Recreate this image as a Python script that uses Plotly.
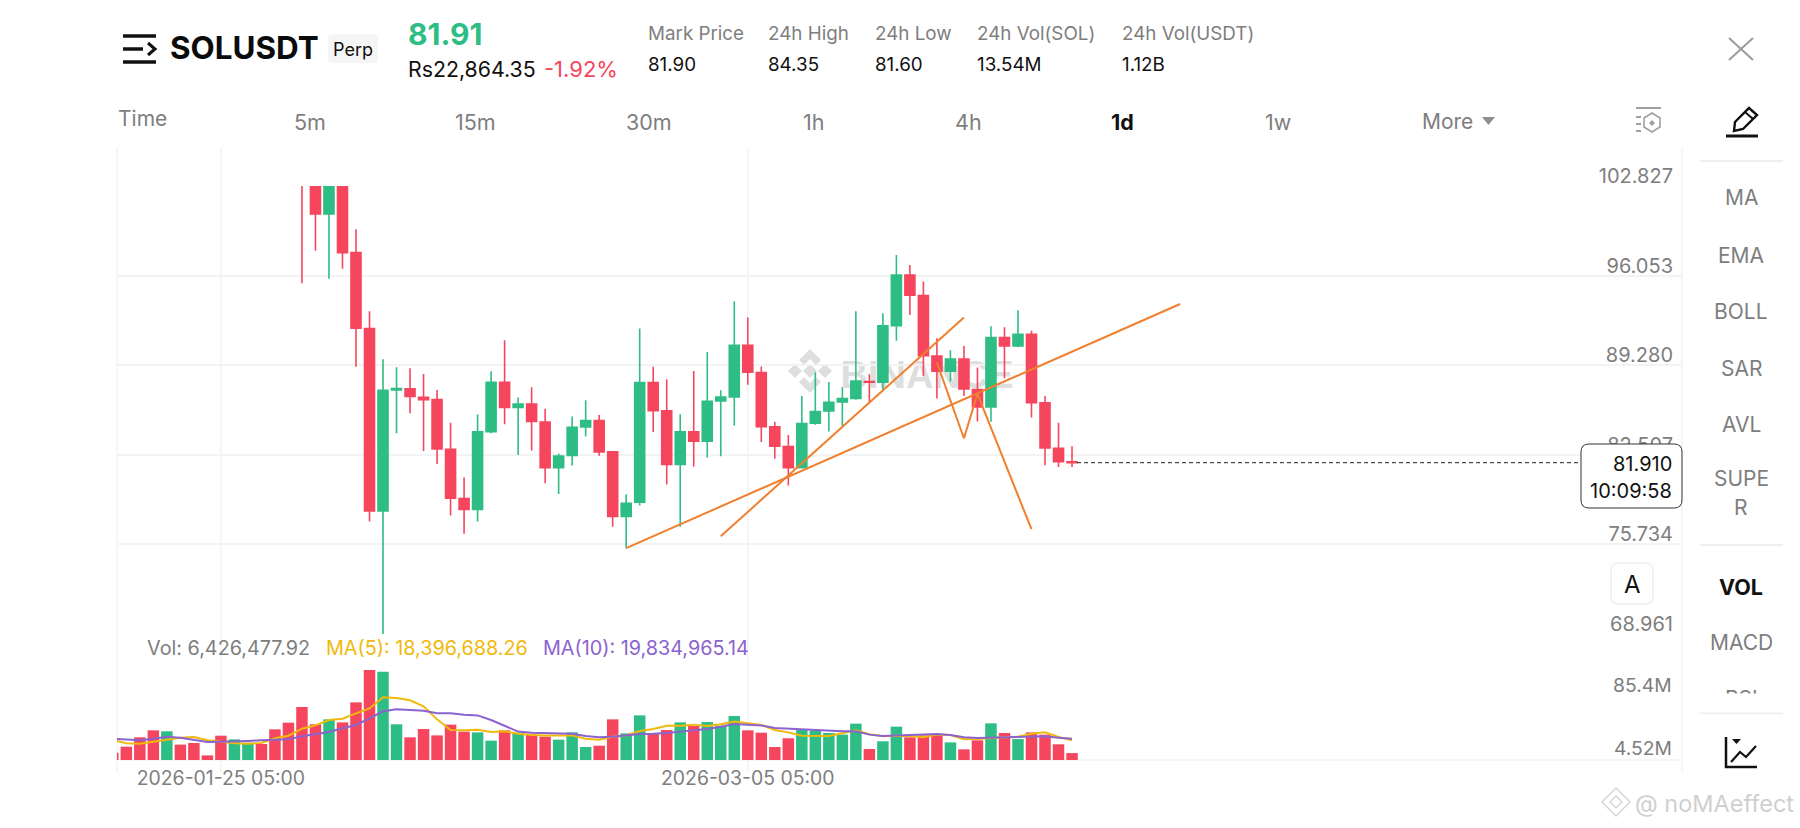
import pandas as pd
import plotly.graph_objects as go

W, H = 1800, 828
GREEN, RED = "#2EBD85", "#F6465D"
ORANGE = "#F07F2E"
YEL, PUR = "#F0B90B", "#8B63CF"
GRID = "#F3F3F3"
GRAY = "#7E7E7E"
FONT = "Inter"

opens = [106, 104, 100.71, 103.5, 97.79, 92.05, 78.27, 87.41, 87.49, 86.86, 86.68, 82.93, 79.20, 78.37, 84.26, 87.99, 86.08, 86.35, 84.99, 81.54, 82.45, 84.62,
         85.09, 82.73, 77.84, 78.92, 87.97, 85.83, 81.77, 84.24, 83.53, 86.58, 86.88, 90.79, 88.72, 84.62, 83.13, 81.54, 84.89, 85.83, 86.50, 86.76, 88.04, 87.99, 92.27, 96.10, 94.54, 89.98, 88.82, 89.75, 87.44, 86.13, 91.37, 90.74, 91.62, 86.43, 83.00, 81.97]
closes = [104, 100.71, 103.5, 97.79, 92.07, 78.27, 87.39, 87.51, 86.91, 86.68, 82.95, 79.23, 78.37, 84.24, 87.99, 86.08, 86.35, 85.02, 81.54, 82.42, 84.59, 85.09,
          82.73, 77.84, 78.85, 87.97, 85.85, 81.77, 84.24, 83.53, 86.56, 86.88, 90.79, 88.75, 84.64, 83.15, 81.54, 84.87, 85.78, 86.48, 86.76, 88.09, 87.99, 92.25, 96.10, 94.57, 90.00, 88.82, 89.75, 87.49, 86.13, 91.37, 90.74, 91.62, 86.45, 83.03, 81.99, 81.91]
highs = [107, 105, 105, 104, 99.55, 93.36, 89.73, 89.12, 89.05, 88.62, 87.41, 84.93, 80.79, 85.55, 88.82, 91.16, 86.83, 87.61, 85.99, 82.60, 85.40, 86.63,
         85.52, 82.78, 79.53, 92.05, 89.17, 88.22, 85.57, 88.85, 90.28, 87.39, 94.11, 92.88, 89.19, 85.00, 84.00, 86.96, 88.75, 88.02, 87.61, 93.36, 88.60, 93.21, 97.61, 96.86, 95.60, 91.31, 90.41, 90.74, 89.10, 92.22, 92.15, 93.43, 91.89, 86.96, 84.93, 83.16]
lows = [95.47, 97.94, 95.82, 96.58, 89.17, 77.46, 68.5, 84.14, 85.65, 82.80, 81.82, 77.92, 76.53, 77.46, 84.14, 84.82, 82.50, 82.83, 80.36, 79.55, 81.69, 83.89,
        82.43, 77.06, 75.45, 78.67, 84.24, 80.26, 77.06, 81.62, 82.30, 82.40, 84.72, 87.81, 83.48, 82.20, 80.18, 81.54, 84.77, 84.26, 84.69, 86.66, 86.48, 87.41, 91.12, 93.08, 88.47, 86.76, 88.04, 86.96, 85.02, 85.00, 88.29, 90.64, 85.32, 81.72, 81.59, 81.59]

volumes = [6.8, 12.4, 21.1, 27.6, 26.7, 14.3, 15.8, 4.3, 22.6, 19.2, 16.1, 14.9, 28.5, 34.7, 49.3, 33.2, 37.8, 35.0, 53.6, 83.7, 82.2, 33.2, 21.1, 28.8, 22.9, 32.9, 26.4, 25.7, 18.0, 27.6, 25.4, 23.9, 21.7, 18.9, 25.7, 12.1,
           13.3, 37.8, 24.8, 41.5, 24.8, 27.9, 35.0, 31.6, 35.3, 31.9, 40.9, 27.6, 25.4, 12.1, 20.2, 27.9, 27.3, 25.1, 23.6, 33.8, 10.2, 17.4, 31.0, 21.1, 22.9, 23.3, 16.4, 9.9, 18.3, 34.1, 25.1, 19.5, 25.7, 23.6, 14.6, 6.43]
early_up = [0, 0, 0, 0, 1, 0, 0, 0, 0, 1, 1, 0, 0, 0]
ma5 = [18.6, 15.5, 15.2, 17.05, 19.5, 20.8, 21.4, 18.3, 17.05, 15.5, 15.2, 15.8, 20.2, 22.6, 29.1, 32.2, 37.2, 38.4, 43.4, 48, 58.3, 57.7, 55.5, 49.9, 37.8, 27.9, 27.6, 28.2, 26, 26.7, 24.5, 23.3, 22.9, 22.6, 22.9, 19.8,
       18.9, 21.7, 22.9, 27, 28.8, 31.9, 31.9, 32.9, 31.6, 33.2, 35.7, 34.1, 32.6, 27.9, 25.7, 22.6, 22.3, 22.3, 24.8, 27.6, 23.9, 22, 22.6, 22.3, 21.1, 23.6, 23.3, 19.2, 19.5, 20.5, 21.1, 21.7, 24.5, 25.7, 21.4, 18.4]
ma10 = [19.8, 18.9, 18.3, 19.8, 21.7, 20.8, 18.6, 16.7, 17.05, 17.05, 17.7, 18.3, 18.6, 19.2, 22, 24.2, 26, 29.5, 32.6, 38.8, 45.3, 47.1, 46.5, 45.9, 43.4, 43.4, 42.2, 41.5, 37.2, 31.9, 26.4, 25.4, 25.1, 24.2, 24.5, 22.3,
        21.1, 21.7, 22.9, 24.2, 24.5, 25.1, 26.4, 27.3, 28.8, 31, 33.5, 32.9, 32.2, 29.8, 29.1, 28.8, 28.2, 27.6, 26.7, 26.7, 23.6, 22.3, 22.9, 23.6, 24.2, 24.2, 23.3, 21.1, 20.5, 20.8, 21.7, 22, 22, 22, 20.8, 19.83]

price_ticks = [102.827, 96.053, 89.280, 82.507, 75.734, 68.961]
price_labels = ["102.827", "96.053", "89.280", "82.507", "75.734", "68.961"]
date_ticks = ["2026-01-25 05:00", "2026-03-05 05:00"]
last_price = 81.91

trend_a_x = ["2026-02-24 05:00", "2026-04-06 05:00"]
trend_a_y = [75.45, 93.91]
trend_b_x = ["2026-03-03 05:00", "2026-03-21 05:00"]
trend_b_y = [76.35, 92.88]
zig_x = ["2026-03-19 05:00", "2026-03-21 05:00", "2026-03-22 05:00", "2026-03-26 05:00"]
zig_y = [89.48, 83.76, 87.11, 76.88]

vol_dates = pd.date_range("2026-01-17 05:00", periods=len(volumes), freq="D")
candle_dates = vol_dates[len(early_up):]
vol_up = early_up + [1 if c >= o else 0 for o, c in zip(opens, closes)]
vol_colors = [GREEN if u else RED for u in vol_up]

def X(p): return p / W
def Y(p): return 1 - p / H

fig = go.Figure()
fig.add_trace(go.Candlestick(x=candle_dates, open=opens, high=highs, low=lows, close=closes,
    increasing=dict(line=dict(color=GREEN, width=1.6), fillcolor=GREEN),
    decreasing=dict(line=dict(color=RED, width=1.6), fillcolor=RED),
    xaxis="x", yaxis="y", hoverinfo="skip", showlegend=False))
for xs, ys in [(trend_a_x, trend_a_y), (trend_b_x, trend_b_y), (zig_x, zig_y)]:
    fig.add_trace(go.Scatter(x=xs, y=ys, mode="lines", line=dict(color=ORANGE, width=2),
                             xaxis="x", yaxis="y", hoverinfo="skip", showlegend=False, cliponaxis=False))
fig.add_trace(go.Bar(x=vol_dates, y=volumes, marker=dict(color=vol_colors, line=dict(width=0)),
                     xaxis="x", yaxis="y2", hoverinfo="skip", showlegend=False))
fig.add_trace(go.Scatter(x=vol_dates, y=ma5, mode="lines", line=dict(color=YEL, width=2),
                         xaxis="x", yaxis="y2", hoverinfo="skip", showlegend=False))
fig.add_trace(go.Scatter(x=vol_dates, y=ma10, mode="lines", line=dict(color=PUR, width=2),
                         xaxis="x", yaxis="y2", hoverinfo="skip", showlegend=False))

shapes = []
def line(x0, y0, x1, y1, color=GRID, width=1.5, layer="below"):
    shapes.append(dict(type="line", xref="paper", yref="paper", x0=X(x0), y0=Y(y0), x1=X(x1), y1=Y(y1),
                       line=dict(color=color, width=width), layer=layer))
def path(pts, color=None, fill=None, width=1.5, close=True, layer="above"):
    d = "M " + " L ".join(f"{X(a):.5f} {Y(b):.5f}" for a, b in pts) + (" Z" if close else "")
    shapes.append(dict(type="path", xref="paper", yref="paper", path=d,
                       line=dict(color=color or "rgba(0,0,0,0)", width=width if color else 0),
                       fillcolor=fill or "rgba(0,0,0,0)", layer=layer))
def rrect(x0, y0, x1, y1, r, color=None, fill=None, width=1, layer="above"):
    f = lambda a, b: f"{X(a):.5f} {Y(b):.5f}"
    d = (f"M {f(x0 + r, y0)} L {f(x1 - r, y0)} Q {f(x1, y0)} {f(x1, y0 + r)} L {f(x1, y1 - r)} Q {f(x1, y1)} {f(x1 - r, y1)} "
         f"L {f(x0 + r, y1)} Q {f(x0, y1)} {f(x0, y1 - r)} L {f(x0, y0 + r)} Q {f(x0, y0)} {f(x0 + r, y0)} Z")
    shapes.append(dict(type="path", xref="paper", yref="paper", path=d,
                       line=dict(color=color or "rgba(0,0,0,0)", width=width if color else 0),
                       fillcolor=fill or "rgba(0,0,0,0)", layer=layer))

# frame lines
line(117, 148, 117, 772)
line(1682, 148, 1682, 772)
line(117, 760, 1682, 760)
for d in date_ticks:
    shapes.append(dict(type="line", xref="x", yref="paper", x0=d, x1=d, y0=Y(772), y1=Y(148),
                       line=dict(color=GRID, width=1.5), layer="below"))
# last price line and tag
shapes.append(dict(type="line", xref="paper", yref="y", x0=X(1077), x1=X(1581), y0=last_price, y1=last_price,
                   line=dict(color="#222222", width=1, dash="4px,3px"), layer="above"))
rrect(1581, 444, 1682, 508, 8, color="#333333", fill="white", width=1)
# BINANCE watermark
WM = "#DEDEDE"
path([(810, 349), (821, 360), (816, 365), (810, 359), (804, 365), (799, 360)], fill=WM, layer="below")
path([(810, 393), (821, 382), (816, 377), (810, 383), (804, 377), (799, 382)], fill=WM, layer="below")
path([(810, 364), (817, 371), (810, 378), (803, 371)], fill=WM, layer="below")
path([(795, 364), (802, 371), (795, 378), (788, 371)], fill=WM, layer="below")
path([(825, 364), (832, 371), (825, 378), (818, 371)], fill=WM, layer="below")
shapes.append(dict(type="rect", xref="paper", yref="paper", x0=X(842), x1=X(1012), y0=Y(350), y1=Y(392),
                   line=dict(width=0), fillcolor="rgba(0,0,0,0)", layer="below",
                   label=dict(text="<b>BINANCE</b>", font=dict(family="Liberation Sans", size=38, color=WM),
                              textposition="middle center")))
# header icons
for y0, x1 in [(36, 156), (62, 156)]:
    line(123, y0, x1, y0, color="#111111", width=3.5, layer="above")
line(123, 49, 143, 49, color="#111111", width=3.5, layer="above")
path([(148, 43), (155, 49), (148, 55)], color="#111111", width=3, close=False)
rrect(328, 34, 378, 63, 4, fill="#F5F5F5", layer="below")
# close X
line(1729, 38, 1753, 60, color="#9A9A9A", width=2, layer="above")
line(1753, 38, 1729, 60, color="#9A9A9A", width=2, layer="above")
# depth icon
line(1636, 108, 1661, 108, color="#A0A0A0", width=2, layer="above")
for yy in (117, 124, 131):
    line(1636, yy, 1641, yy, color="#A0A0A0", width=2, layer="above")
path([(1652, 113), (1660, 118), (1660, 127), (1652, 132), (1644, 127), (1644, 118)], color="#A0A0A0", width=1.6)
path([(1652, 120), (1655, 123), (1652, 126), (1649, 123)], fill="#A0A0A0")
# pencil
path([(1734, 131), (1735, 122), (1749, 108), (1757, 115), (1743, 129)], color="#111111", width=2.4)
line(1745, 112, 1753, 119, color="#111111", width=2, layer="above")
line(1726, 136, 1758, 136, color="#111111", width=3, layer="above")
# panel separators
for yy in (161, 545, 713):
    line(1700, yy, 1783, yy, color="#EEEEEE", width=2, layer="above")
# A button
rrect(1611, 563, 1653, 604, 8, color="#EEEEEE", fill="white", width=1.5)
# chart icon
path([(1726, 737), (1726, 767), (1757, 767)], color="#111111", width=2.5, close=False)
path([(1731, 762), (1740, 752), (1746, 757), (1756, 746)], color="#111111", width=2.2, close=False)
path([(1732, 739), (1741, 739), (1736.5, 744)], fill="#111111")
# More arrow
path([(1482, 117), (1495, 117), (1488.5, 125)], fill="#8F8F8F")
# bottom watermark icon
LW = "#D6D6D6"
path([(1616, 788), (1630, 802), (1616, 816), (1602, 802)], color=LW, width=1.5)
path([(1616, 796), (1622, 802), (1616, 808), (1610, 802)], color=LW, width=1.5)

ann = []
def txt(x, y, s, size=18, color=GRAY, anchor="left", family=FONT):
    ann.append(dict(x=X(x), y=Y(y), xref="paper", yref="paper", text=s, showarrow=False, xanchor=anchor, yanchor="middle",
                    font=dict(family=family, size=size, color=color), borderpad=0, borderwidth=0))

txt(170, 48, "<b>SOLUSDT</b>", 31.4, "#0B0B0B")
txt(353, 49, "Perp", 18, "#111111", "center")
txt(408, 34, "<b>81.91</b>", 30, GREEN)
txt(408, 69, "Rs22,864.35", 21.3, "#111111")
txt(544, 69, "-1.92%", 22, RED)
for x0, lab, val in [(648, "Mark Price", "81.90"), (768, "24h High", "84.35"), (875, "24h Low", "81.60"),
                     (977, "24h Vol(SOL)", "13.54M"), (1122, "24h Vol(USDT)", "1.12B")]:
    txt(x0, 34, lab, 18.8, GRAY)
    txt(x0, 64, val, 18.8, "#111111")
txt(118, 119, "Time", 21, GRAY)
for cx, lab in [(310, "5m"), (476, "15m"), (649, "30m"), (813, "1h"), (968, "4h"), (1278, "1w")]:
    txt(cx, 122, lab, 21.5, GRAY, "center")
txt(1122, 122, "<b>1d</b>", 21.5, "#111111", "center")
txt(1422, 122, "More", 21, GRAY)

txt(147, 648, "Vol: 6,426,477.92", 19.8, GRAY)
txt(326, 648, "MA(5): 18,396,688.26", 19.8, YEL)
txt(543, 648, "MA(10): 19,834,965.14", 19.8, PUR)
txt(1672, 685, "85.4M", 19.3, GRAY, "right")
txt(1672, 748, "4.52M", 19.3, GRAY, "right")
txt(1672, 464, "81.910", 20, "#111111", "right")
txt(1672, 491, "10:09:58", 20, "#111111", "right")
txt(1632, 584, "A", 24, "#111111", "center")
for yy, lab in [(198, "MA"), (255, "EMA"), (311, "BOLL"), (368, "SAR"), (424, "AVL"), (478, "SUPE"), (507, "R"), (642, "MACD"), (698, "RSI")]:
    txt(1741, yy, lab, 21, GRAY, "center")
txt(1741, 587, "<b>VOL</b>", 21.5, "#111111", "center")
ann.append(dict(x=X(1741), y=Y(703), xref="paper", yref="paper", text=" ", showarrow=False, width=100, height=18,
                bgcolor="white", xanchor="center", yanchor="middle", borderpad=0))
txt(1635, 803, "@ noMAeffect", 23.5, "#CFCFCF")

fig.update_layout(
    width=W, height=H, margin=dict(l=0, r=0, t=0, b=0, autoexpand=False), paper_bgcolor="white", plot_bgcolor="white",
    showlegend=False, bargap=0.15, boxgap=0.26, boxgroupgap=0, hovermode=False,
    font=dict(family=FONT, color=GRAY),
    shapes=shapes, annotations=ann,
    xaxis=dict(domain=[X(117), X(1682)], anchor="y2", type="date", range=["2026-01-17 12:26", "2026-05-13 08:36"],
               rangeslider=dict(visible=False), showgrid=False, showline=False, zeroline=False, ticks="", automargin=False,
               tickmode="array", tickvals=date_ticks, ticktext=date_ticks, tickfont=dict(size=19.4, color=GRAY, family=FONT),
               ticklabelstandoff=5, fixedrange=True),
    yaxis=dict(domain=[Y(634), Y(186)], anchor="x", side="right", range=[price_ticks[-1], price_ticks[0]], automargin=False,
               tickmode="array", tickvals=price_ticks, ticktext=price_labels, ticklabelposition="inside",
               ticklabeloverflow="allow", ticklabelshift=-10, ticklabelstandoff=6,
               tickfont=dict(size=20, color=GRAY, family=FONT), showgrid=True, gridcolor=GRID, gridwidth=1.5,
               showline=False, zeroline=False, ticks="", fixedrange=True),
    yaxis2=dict(domain=[Y(760), Y(634)], anchor="x", side="right", range=[0, 117.2], showgrid=False, automargin=False,
                showticklabels=False, showline=False, zeroline=False, ticks="", fixedrange=True),
)
fig.write_html("out.html", config={"displayModeBar": False},
               post_script="document.body.style.margin='0';document.body.style.overflow='hidden';")
